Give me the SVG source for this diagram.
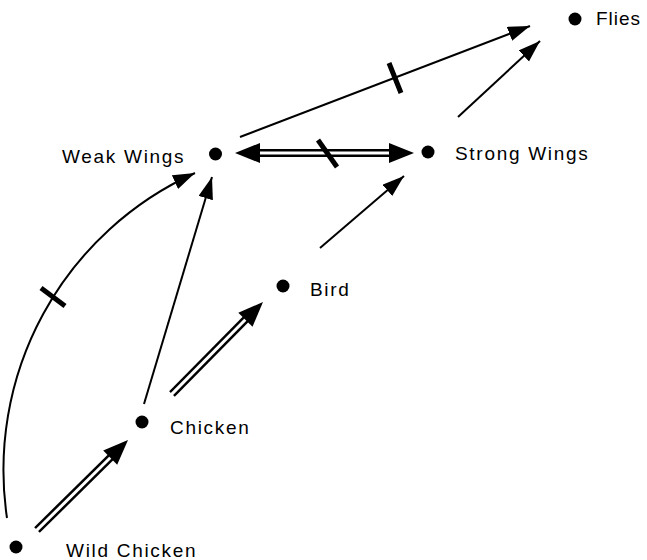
<svg xmlns="http://www.w3.org/2000/svg" width="647" height="560" viewBox="0 0 647 560">
<style>
.lbl{font-family:"Liberation Sans",Arial,Helvetica,sans-serif;font-size:19px;fill:#000;letter-spacing:1.7px}
.dot{fill:#000}
.ln{stroke:#000;stroke-width:2;fill:none}
.tick{stroke:#000;stroke-width:5;fill:none}
.dbo{stroke:#000;stroke-width:8;fill:none}
.dbi{stroke:#fff;stroke-width:3;fill:none}
.head{fill:#000}
</style>
<defs>
<marker id="ah" markerUnits="userSpaceOnUse" markerWidth="24" markerHeight="16" refX="22" refY="7.5" orient="auto">
<path d="M0,0 L22,7.5 L0,15 z" fill="#000"/>
</marker>
</defs>
<rect width="647" height="560" fill="#fff"/>
<g id="connectors">
<!-- Weak Wings -> Flies -->
<line class="ln" x1="240" y1="137" x2="530" y2="26" marker-end="url(#ah)"/>
<line class="tick" x1="389" y1="63" x2="401" y2="93"/>
<!-- Strong Wings -> Flies -->
<line class="ln" x1="458" y1="117" x2="540" y2="41" marker-end="url(#ah)"/>
<!-- Bird -> Strong Wings -->
<line class="ln" x1="320" y1="248" x2="404" y2="176" marker-end="url(#ah)"/>
<!-- Chicken -> Weak Wings -->
<line class="ln" x1="144" y1="404" x2="212" y2="177" marker-end="url(#ah)"/>
<!-- Wild Chicken -> Weak Wings (arc) -->
<path class="ln" d="M7,518 A326,326 0 0 1 195,173" marker-end="url(#ah)"/>
<line class="tick" x1="41" y1="288" x2="65" y2="306"/>
<!-- Weak Wings <-> Strong Wings (double) -->
<line class="dbo" x1="258" y1="153" x2="391" y2="153"/>
<line class="dbi" x1="256" y1="153" x2="393" y2="153"/>
<polygon class="head" points="235,153 260,143 260,163"/>
<polygon class="head" points="414,153 389,143 389,163"/>
<line class="tick" x1="318" y1="140" x2="337" y2="167"/>
<!-- Chicken -> Bird (double) -->
<line class="dbo" x1="172" y1="394" x2="247" y2="318"/>
<line class="dbi" x1="170.6" y1="395.4" x2="246" y2="319"/>
<polygon class="head" points="263,302 252.5,326.8 238.3,312.8"/>
<!-- Wild Chicken -> Chicken (double) -->
<line class="dbo" x1="37" y1="530" x2="112" y2="456"/>
<line class="dbi" x1="35.6" y1="531.4" x2="111" y2="457"/>
<polygon class="head" points="128,440 117.2,464.7 103.2,450.5"/>
</g>
<g id="flies"><circle class="dot" cx="575" cy="19" r="6.5"/><text class="lbl" x="596" y="25" style="letter-spacing:1px">Flies</text></g>
<g id="weak-wings"><circle class="dot" cx="215.5" cy="154" r="6.5"/><text class="lbl" x="62" y="162.5">Weak Wings</text></g>
<g id="strong-wings"><circle class="dot" cx="428" cy="152" r="6.5"/><text class="lbl" x="455" y="160">Strong Wings</text></g>
<g id="bird"><circle class="dot" cx="283" cy="286" r="6.5"/><text class="lbl" x="310" y="296">Bird</text></g>
<g id="chicken"><circle class="dot" cx="142" cy="422" r="6.5"/><text class="lbl" x="170" y="434">Chicken</text></g>
<g id="wild-chicken"><circle class="dot" cx="16" cy="547" r="6.5"/><text class="lbl" x="66" y="557">Wild Chicken</text></g>
</svg>
